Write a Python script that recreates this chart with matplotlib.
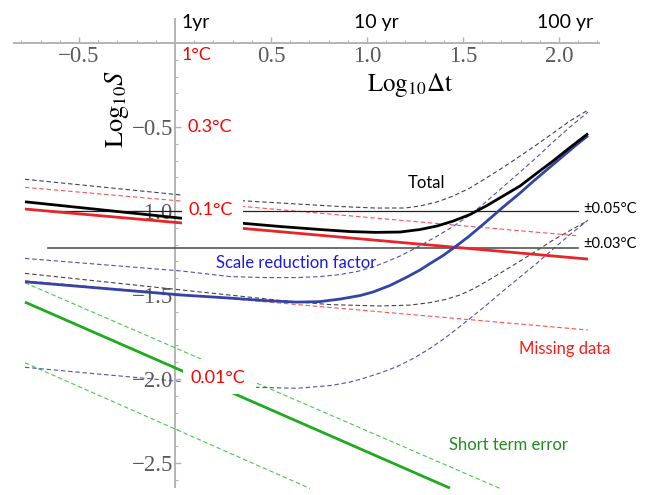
import numpy as np
import matplotlib
matplotlib.use('Agg')
import matplotlib.pyplot as plt
from matplotlib.patches import Rectangle

plt.rcParams['mathtext.fontset'] = 'stix'
plt.rcParams['font.family'] = ['Liberation Serif', 'DejaVu Serif']

# ---------------- data ----------------
# Total (black)
tot_x = [-0.781, 0.036, 0.354, 0.547, 0.755, 0.911, 1.042, 1.172, 1.276, 1.365, 1.448, 1.536,
         1.625, 1.708, 1.797, 1.885, 1.969, 2.057, 2.151]
tot_y = [-0.945, -1.043, -1.073, -1.092, -1.110, -1.122, -1.127, -1.125, -1.110, -1.089, -1.060, -1.021,
         -0.967, -0.911, -0.851, -0.774, -0.702, -0.622, -0.539]
tot_hi_x = [-0.781, 0.036, 0.354, 0.635, 0.859, 1.042, 1.198, 1.276, 1.365, 1.448, 1.536, 1.625,
            1.708, 1.797, 1.885, 1.969, 2.057, 2.151]
tot_hi_y = [-0.811, -0.905, -0.939, -0.958, -0.973, -0.982, -0.982, -0.970, -0.946, -0.911, -0.863, -0.801,
            -0.741, -0.673, -0.604, -0.536, -0.464, -0.399]
tot_lo_x = [-0.781, 0.036, 0.286, 0.547, 0.807, 1.068, 1.224, 1.328, 1.406, 1.484, 1.552, 1.625,
            1.708, 1.797, 1.885, 1.969, 2.057, 2.146]
tot_lo_y = [-1.371, -1.470, -1.500, -1.532, -1.557, -1.565, -1.560, -1.545, -1.527, -1.500, -1.464, -1.417,
            -1.360, -1.298, -1.235, -1.173, -1.116, -1.060]

# Scale reduction factor (blue)
srf_x = [-0.781, 0.036, 0.286, 0.469, 0.635, 0.755, 0.859, 0.964, 1.031, 1.120, 1.208, 1.276, 1.328,
         1.396, 1.458, 1.526, 1.589, 1.646, 1.703, 1.797, 1.865, 1.938, 2.021, 2.083, 2.151]
srf_y = [-1.421, -1.500, -1.518, -1.533, -1.542, -1.539, -1.524, -1.503, -1.482, -1.443, -1.393, -1.351, -1.313,
         -1.265, -1.214, -1.155, -1.095, -1.039, -0.982, -0.893, -0.824, -0.753, -0.673, -0.613, -0.551]
srf_hi_x = [-0.781, 0.036, 0.286, 0.469, 0.635, 0.755, 0.859, 0.948, 1.031, 1.104, 1.172, 1.234, 1.292,
            1.370, 1.448, 1.536, 1.625, 1.708, 1.797, 1.885, 1.969, 2.057, 2.151]
srf_hi_y = [-1.282, -1.357, -1.390, -1.396, -1.396, -1.390, -1.378, -1.360, -1.333, -1.301, -1.268, -1.232, -1.196,
            -1.146, -1.092, -1.024, -0.940, -0.857, -0.768, -0.679, -0.589, -0.500, -0.411]
srf_lo_x = [-0.781, 0.042, 0.422, 0.635, 0.807, 0.911, 0.979, 1.068, 1.156, 1.240, 1.328, 1.406, 1.484,
            1.552, 1.625, 1.708, 1.797, 1.885, 1.969, 2.057, 2.151]
srf_lo_y = [-1.930, -2.016, -2.049, -2.055, -2.039, -2.018, -1.997, -1.964, -1.926, -1.878, -1.818, -1.756, -1.687,
            -1.625, -1.557, -1.476, -1.393, -1.310, -1.226, -1.140, -1.054]

# Missing data (red)
mis_x = [-0.781, 2.151]
mis_y = [-0.988, -1.286]
mis_hi_x = [-0.781, 2.094]
mis_hi_y = [-0.859, -1.147]
mis_lo_x = [-0.781, 2.151]
mis_lo_y = [-1.415, -1.708]

# Short term error (green)
ste_x = [-0.781, 1.432]
ste_y = [-1.542, -2.649]
ste_hi_x = [-0.781, 1.693]
ste_hi_y = [-1.427, -2.651]
ste_lo_x = [-0.781, 0.703]
ste_lo_y = [-1.903, -2.651]

# reference levels
ref_levels = [-1.0, -1.222]
ref_labels = ['±0.05°C', '±0.03°C']
ref_x = [-0.66, 2.10]

temp_labels = ['1°C', '0.3°C', '0.1°C', '0.01°C']
temp_y = [-0.071, -0.50, -0.994, -1.994]
temp_x = [0.036, 0.066, 0.071, 0.081]

time_labels = ['1yr', '10 yr', '100 yr']
time_x = [0.036, 1.047, 2.031]

xticks = [-0.5, 0.5, 1.0, 1.5, 2.0]
xticklabels = ['\u22120.5', '0.5', '1.0', '1.5', '2.0']
yticks = [-0.5, -1.0, -1.5, -2.0, -2.5]
yticklabels = ['\u22120.5', '\u22121.0', '\u22121.5', '\u22122.0', '\u22122.5']

# ---------------- figure ----------------
fig = plt.figure(figsize=(6.46, 4.95), dpi=100)
ax = fig.add_axes([0, 0, 1, 1])
ax.set_xlim(-0.911, 2.453)
ax.set_ylim(-2.690, 0.256)

axc = '#b4b4b4'
for s in ['top', 'right']:
    ax.spines[s].set_visible(False)
ax.spines['left'].set_position(('data', 0))
ax.spines['bottom'].set_position(('data', 0))
ax.spines['left'].set_bounds(-2.643, 0.143)
ax.spines['bottom'].set_bounds(-0.84, 2.21)
for s in ['left', 'bottom']:
    ax.spines[s].set_color(axc)
    ax.spines[s].set_linewidth(1.4)
    ax.spines[s].set_zorder(1.5)

ax.set_xticks(xticks)
ax.set_xticklabels(xticklabels)
xminor = [v for v in np.round(np.arange(-0.8, 2.21, 0.1), 2) if v not in xticks and abs(v) > 1e-9]
ax.set_xticks(xminor, minor=True)
ax.set_yticks(yticks)
ax.set_yticklabels(yticklabels)
yminor = [v for v in np.round(np.arange(-2.6, 0.0, 0.1), 2) if v not in yticks and abs(v) > 1e-9]
ax.set_yticks(yminor, minor=True)
ax.tick_params(which='both', direction='in', color=axc, labelcolor='#5a5a5a', labelsize=16.5)
ax.tick_params(which='major', length=4.5, width=1.0)
ax.tick_params(which='minor', length=2.5, width=0.8)
ax.tick_params(axis='x', pad=2)
ax.tick_params(axis='y', pad=1.5)

# lines
solid_lw = 2.0
dash_lw = 0.8
dash = (4, 2.5)
ax.plot(mis_hi_x, mis_hi_y, color='#ff5050', lw=dash_lw, dashes=dash, zorder=2)
ax.plot(mis_lo_x, mis_lo_y, color='#ff5050', lw=dash_lw, dashes=dash, zorder=2)
ax.plot(ste_hi_x, ste_hi_y, color='#44cc44', lw=dash_lw, dashes=dash, zorder=2)
ax.plot(ste_lo_x, ste_lo_y, color='#44cc44', lw=dash_lw, dashes=dash, zorder=2)
ax.plot(srf_hi_x, srf_hi_y, color='#5050b8', lw=dash_lw, dashes=dash, zorder=2)
ax.plot(srf_lo_x, srf_lo_y, color='#5050b8', lw=dash_lw, dashes=dash, zorder=2)
ax.plot(tot_hi_x, tot_hi_y, color='#444444', lw=dash_lw, dashes=dash, zorder=2)
ax.plot(tot_lo_x, tot_lo_y, color='#444444', lw=dash_lw, dashes=dash, zorder=2)

ax.plot(ref_x, [ref_levels[0]] * 2, color='#222222', lw=0.9, zorder=2)
ax.plot(ref_x, [ref_levels[1]] * 2, color='#555555', lw=1.2, zorder=2)

ax.plot(ste_x, ste_y, color='#1faa1f', lw=solid_lw, zorder=2.2, solid_capstyle='butt')
ax.plot(mis_x, mis_y, color='#e8262a', lw=solid_lw, zorder=2.2, solid_capstyle='butt')
ax.plot(srf_x, srf_y, color='#3344a8', lw=solid_lw, zorder=2.3, solid_capstyle='butt', solid_joinstyle='round')
ax.plot(tot_x, tot_y, color='black', lw=solid_lw, zorder=2.4, solid_capstyle='butt', solid_joinstyle='round')

# white label boxes that interrupt the curves
ax.add_patch(Rectangle((0.036, -1.149), 0.318, 0.286, fc='white', ec='none', zorder=3))
ax.add_patch(Rectangle((0.042, -2.089), 0.380, 0.208, fc='white', ec='none', zorder=3))

sans = ['Lato', 'DejaVu Sans']
for lab, xx, yy in zip(temp_labels, temp_x, temp_y):
    ax.text(xx, yy, lab, color='#ff0000', fontsize=13, family=sans, ha='left', va='center', zorder=5)
for lab, xx in zip(time_labels, time_x):
    ax.text(xx, 0.125, lab, color='black', fontsize=14, family=sans,
            ha='left' if lab == '1yr' else 'center', va='center', zorder=5)
for lab, yy in zip(ref_labels, [-0.988, -1.196]):
    ax.text(2.127, yy, lab, color='black', fontsize=10.5, family=sans, ha='left', va='center', zorder=5)

ax.text(1.31, -0.833, 'Total', color='black', fontsize=12, family=sans, ha='center', va='center', zorder=5)
ax.text(0.214, -1.31, 'Scale reduction factor', color='#1a1ae6', fontsize=12, family=sans, ha='left', va='center', zorder=5)
ax.text(1.79, -1.82, 'Missing data', color='#ff1a1a', fontsize=12, family=sans, ha='left', va='center', zorder=5)
ax.text(1.427, -2.393, 'Short term error', color='#1e8c1e', fontsize=12, family=sans, ha='left', va='center', zorder=5)

ax.text(1.224, -0.25, r'$\mathrm{Log}_{10}\Delta\mathrm{t}$', fontsize=18, ha='center', va='center', zorder=5)
ax.text(-0.30, -0.39, r'$\mathrm{Log}_{10}S$', fontsize=19, rotation=90, ha='center', va='center', zorder=5)

fig.savefig('out.png', dpi=100, facecolor='white')
